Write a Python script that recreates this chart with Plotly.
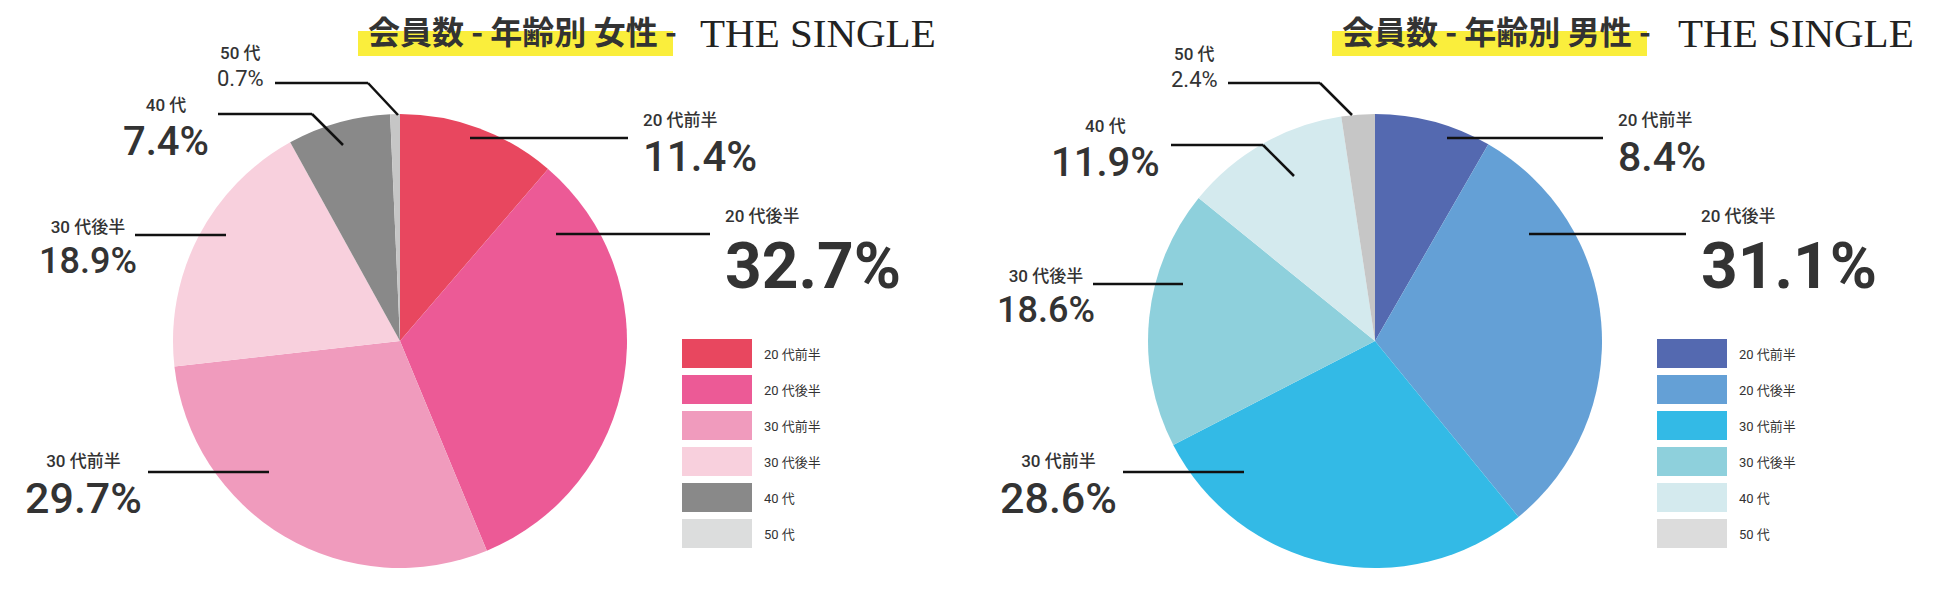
import math
import plotly.graph_objects as go

W, H = 1950, 613
OFF = 8  # default page body margin of the html page

# ---- data ----
categories = ["20 代前半", "20 代後半", "30 代前半", "30 代後半", "40 代", "50 代"]
female_pct = [11.4, 32.7, 29.7, 18.9, 7.4, 0.7]
male_pct = [8.4, 31.1, 28.6, 18.6, 11.9, 2.4]

female_title = "会員数 - 年齢別 女性 -"
male_title = "会員数 - 年齢別 男性 -"
logo_text = "THE SINGLE"

# ---- styles ----
female_colors = ["#E8475F", "#EC5A96", "#F09BBD", "#F8D0DD", "#898989", "#C6C6C6"]
female_legend_colors = ["#E8475F", "#EC5A96", "#F09BBD", "#F8D0DD", "#898989", "#DCDDDD"]
male_colors = ["#5469B0", "#64A0D6", "#33BAE6", "#8ED0DC", "#D4EAEE", "#C6C6C6"]
male_legend_colors = ["#5469B0", "#64A0D6", "#33BAE6", "#8ED0DC", "#D4EAEE", "#DCDCDC"]

TEXT = "#333333"
LABEL_FONT = "Roboto, Liberation Sans, Noto Sans CJK JP, sans-serif"
CJK_FONT = "Noto Sans CJK JP, sans-serif"
SMALL = 17
ASC, DESC = 0.93, 0.245     # approx. line-box metrics of the number font
CJK_DESC = 0.29


def px(x):
    return (x - OFF) / W


def py(y):
    return 1 - (y - OFF) / H


R = 227
# label layout: x, anchor, big-number baseline y, big size, big weight, baseline gap, leader points
panels = [
    dict(values=female_pct, colors=female_colors, legend_colors=female_legend_colors,
         cx=400, cy=341, title=female_title, title_x=366, hl=(358, 673), logo_x=698,
         legend_x=682,
         labels=[
             dict(x=641, a="left", base=168, bs=42, bw=500, gap=38, lead=[(470, 138), (628, 138)]),
             dict(x=723, a="left", base=285, bs=64, bw=700, gap=57, lead=[(556, 234), (710, 234)]),
             dict(x=83, a="center", base=513, bs=43, bw=500, gap=45, lead=[(148, 472), (269, 472)]),
             dict(x=88, a="center", base=272, bs=36, bw=500, gap=36, lead=[(135, 235), (226, 235)]),
             dict(x=166, a="center", base=155, bs=40, bw=500, gap=41, lead=[(218, 114), (312, 114), (343, 145)]),
             dict(x=240, a="center", base=87, bs=22, bw=400, gap=27, lead=[(275, 83), (368, 83), (398, 115)]),
         ]),
    dict(values=male_pct, colors=male_colors, legend_colors=male_legend_colors,
         cx=1375, cy=341, title=male_title, title_x=1340, hl=(1332, 1647), logo_x=1676,
         legend_x=1657,
         labels=[
             dict(x=1616, a="left", base=168, bs=41, bw=500, gap=37, lead=[(1447, 138), (1603, 138)]),
             dict(x=1699, a="left", base=285, bs=64, bw=700, gap=58, lead=[(1529, 234), (1686, 234)]),
             dict(x=1058, a="center", base=513, bs=43, bw=500, gap=45, lead=[(1123, 472), (1244, 472)]),
             dict(x=1046, a="center", base=321, bs=36, bw=500, gap=36, lead=[(1093, 284), (1183, 284)]),
             dict(x=1105, a="center", base=175, bs=40, bw=500, gap=39, lead=[(1171, 145), (1263, 145), (1294, 176)]),
             dict(x=1194, a="center", base=87, bs=22, bw=400, gap=26, lead=[(1228, 83), (1320, 83), (1352, 115)]),
         ]),
]

fig = go.Figure()
shapes = []
annotations = []

for p in panels:
    fig.add_trace(go.Pie(
        labels=categories, values=p["values"], sort=False, direction="clockwise",
        rotation=0, textinfo="none", hoverinfo="label+value",
        marker=dict(colors=p["colors"], line=dict(width=0)),
        domain=dict(x=[px(p["cx"] - R), px(p["cx"] + R)],
                    y=[py(p["cy"] + R), py(p["cy"] - R)]),
        showlegend=False,
    ))

    # title highlight + title text
    shapes.append(dict(type="rect", xref="paper", yref="paper",
                       x0=px(p["hl"][0]), x1=px(p["hl"][1]), y0=py(56), y1=py(31),
                       fillcolor="#FAEE3C", line=dict(width=0), layer="below"))
    annotations.append(dict(x=px(p["title_x"]), y=py(30), xref="paper", yref="paper",
                            xanchor="left", yanchor="middle", showarrow=False,
                            text=p["title"],
                            font=dict(family=CJK_FONT, size=32, color=TEXT, weight=700)))
    annotations.append(dict(x=px(p["logo_x"]), y=py(33), xref="paper", yref="paper",
                            xanchor="left", yanchor="middle", showarrow=False,
                            text=logo_text,
                            font=dict(family="Liberation Serif, serif", size=41, color="#222222")))

    # slice labels (category over percentage) + leader lines
    for cat, val, lab in zip(categories, p["values"], p["labels"]):
        bs = lab["bs"]
        # keep the two lines' boxes from touching: widen the gap symmetrically if needed
        need = math.ceil(ASC * bs + CJK_DESC * SMALL) + 1
        gap = max(lab["gap"], need)
        base = lab["base"] + (gap - lab["gap"]) / 2
        txt = (f"<span style='font-size:{SMALL}px;font-weight:500'>{cat}</span><br>"
               f"<span style='font-size:{bs}px;font-weight:{lab['bw']}'>{val:.1f}%</span>")
        bottom = base + DESC * bs + 1
        annotations.append(dict(x=px(lab["x"]), y=py(bottom), xref="paper", yref="paper",
                                xanchor=lab["a"], yanchor="bottom", align=lab["a"],
                                showarrow=False, text=txt,
                                font=dict(family=LABEL_FONT, size=gap / 1.3, color=TEXT)))
        pts = lab["lead"]
        for (x0, y0), (x1, y1) in zip(pts[:-1], pts[1:]):
            shapes.append(dict(type="line", xref="paper", yref="paper",
                               x0=px(x0), y0=py(y0), x1=px(x1), y1=py(y1),
                               line=dict(color="#111111", width=2.5)))

    # custom legend
    for i, (cat, col) in enumerate(zip(categories, p["legend_colors"])):
        top = 339 + 36 * i
        shapes.append(dict(type="rect", xref="paper", yref="paper",
                           x0=px(p["legend_x"]), x1=px(p["legend_x"] + 70),
                           y0=py(top + 29), y1=py(top),
                           fillcolor=col, line=dict(width=0)))
        annotations.append(dict(x=px(p["legend_x"] + 80), y=py(top + 15), xref="paper", yref="paper",
                                xanchor="left", yanchor="middle", showarrow=False, text=cat,
                                font=dict(family=LABEL_FONT, size=13, color=TEXT)))

fig.update_layout(
    width=W, height=H,
    margin=dict(l=0, r=0, t=0, b=0),
    paper_bgcolor="white", plot_bgcolor="white",
    shapes=shapes, annotations=annotations,
    showlegend=False,
)

fig.write_html("out.html")
